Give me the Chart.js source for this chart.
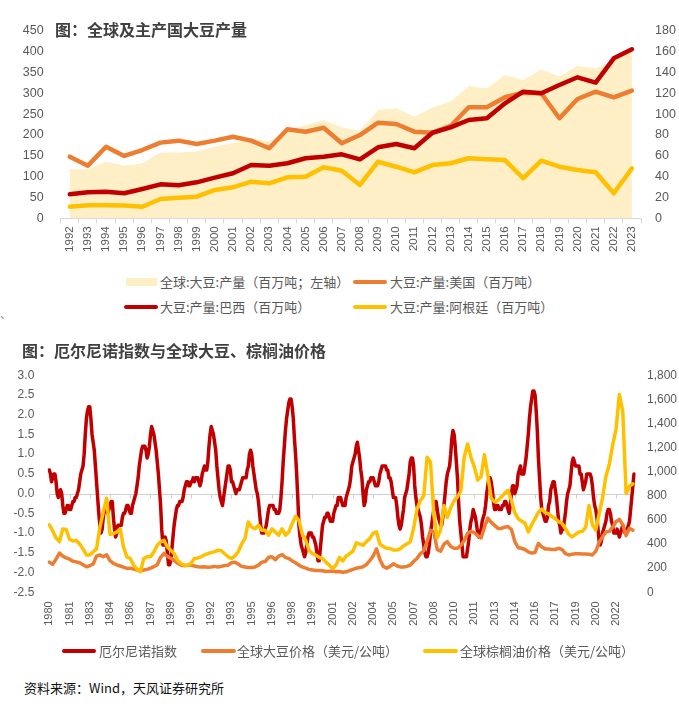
<!DOCTYPE html>
<html><head><meta charset="utf-8">
<script src="https://cdn.jsdelivr.net/npm/chart.js@4.4.1/dist/chart.umd.min.js"></script>
<style>
html,body{margin:0;padding:0;background:#fff;}
body{width:679px;height:706px;position:relative;overflow:hidden;font-family:"Noto Sans CJK SC","Noto Sans",sans-serif;}
canvas{position:absolute;left:0;}
.t{position:absolute;white-space:nowrap;line-height:20px;z-index:2;}
.title{font-size:16px;font-weight:bold;color:#404040;}
.lg{font-size:13px;color:#595959;}
.sw{position:absolute;z-index:2;}
</style></head>
<body>
<canvas id="c1" width="679" height="265" style="top:0px"></canvas>
<canvas id="c2" width="679" height="297" style="top:353px"></canvas>

<div class="t title" style="left:55px;top:19px">图：全球及主产国大豆产量</div>
<div class="sw" style="left:126px;top:278px;width:31px;height:8px;background:#FFEFC6"></div>
<div class="t lg" style="left:160px;top:272px">全球:大豆:产量（百万吨；左轴）</div>
<div class="sw" style="left:353px;top:280px;width:34px;height:4px;background:#ED7D31;border-radius:2px"></div>
<div class="t lg" style="left:390px;top:272px">大豆:产量:美国（百万吨）</div>
<div class="sw" style="left:124px;top:305px;width:34px;height:4px;background:#C00000;border-radius:2px"></div>
<div class="t lg" style="left:160px;top:297px">大豆:产量:巴西（百万吨）</div>
<div class="sw" style="left:353px;top:305px;width:34px;height:4px;background:#FFC000;border-radius:2px"></div>
<div class="t lg" style="left:390px;top:297px">大豆:产量:阿根廷（百万吨）</div>
<div class="t" style="left:0px;top:303px;font-size:11px;color:#777">、</div>

<div class="t title" style="left:22px;top:340px">图：厄尔尼诺指数与全球大豆、棕榈油价格</div>
<div class="sw" style="left:62px;top:649px;width:34px;height:4px;background:#C00000;border-radius:2px"></div>
<div class="t lg" style="left:99px;top:641px">厄尔尼诺指数</div>
<div class="sw" style="left:201px;top:649px;width:35px;height:4px;background:#ED7D31;border-radius:2px"></div>
<div class="t lg" style="left:237px;top:641px">全球大豆价格（美元/公吨）</div>
<div class="sw" style="left:423px;top:649px;width:35px;height:4px;background:#FFC000;border-radius:2px"></div>
<div class="t lg" style="left:460px;top:641px">全球棕榈油价格（美元/公吨）</div>

<div class="t" style="left:24px;top:678px;font-size:13px;color:#111">资料来源：Wind，天风证券研究所</div>

<script>
// ---------- Chart 1 data: soybean production ----------
const prodYears = ['1992','1993','1994','1995','1996','1997','1998','1999','2000','2001','2002','2003','2004','2005','2006','2007','2008','2009','2010','2011','2012','2013','2014','2015','2016','2017','2018','2019','2020','2021','2022','2023'];
const worldProd = [118,118,136,126,132,158,158,160,172,180,192,184,212,224,236,218,210,260,264,244,266,280,317,312,344,332,357,340,366,360,378,400];
const usProd = [59.1,50.5,68.7,59.8,65.5,72.6,74.5,71.3,74.5,78.3,74.5,67.2,85.4,83.1,86.9,72.0,79.9,91.7,90.5,83.1,82.1,88.6,106.5,106.5,116.1,120.5,120.0,96.0,114.5,121.5,116.1,122.5];
const brazilProd = [23.0,24.9,25.5,24.0,28.1,32.6,31.7,34.5,39.0,43.2,51.1,50.5,52.8,57.6,59.1,61.4,56.6,68.1,71.3,67.2,82.1,87.3,94.3,96.0,110.3,121.5,120.0,127.9,135.3,130.1,153.5,162.2];
const argentinaProd = [11.1,12.5,12.5,12.3,11.1,18.5,19.8,20.7,27.2,29.7,35.1,33.6,39.3,39.9,48.9,45.7,32.0,54.3,49.5,44.1,51.1,52.8,57.6,56.6,55.9,38.4,55.3,49.5,46.3,44.1,24.0,48.0];

// ---------- Chart 2 data: monthly ENSO index 1980-01 .. 2023-05 ----------
const ensoStart = {year:1980, month:1};
const ensoIndex = [
0.6,0.5,0.3,0.4,0.5,0.5,0.3,0.0,-0.1,0.0,0.1,0.0,
-0.3,-0.5,-0.5,-0.4,-0.3,-0.3,-0.4,-0.4,-0.3,-0.2,-0.2,-0.1,
-0.1,0.0,0.1,0.3,0.5,0.6,0.7,1.0,1.5,1.9,2.1,2.2,
2.2,1.9,1.5,1.3,1.1,0.7,0.3,-0.1,-0.5,-0.8,-1.0,-0.9,
-0.6,-0.4,-0.3,-0.4,-0.5,-0.4,-0.3,-0.2,-0.2,-0.6,-0.9,-1.1,
-1.0,-0.8,-0.8,-0.8,-0.8,-0.6,-0.5,-0.5,-0.4,-0.3,-0.3,-0.4,
-0.5,-0.5,-0.3,-0.2,-0.1,0.0,0.2,0.4,0.7,0.9,1.1,1.2,
1.2,1.2,1.1,0.9,1.0,1.2,1.5,1.7,1.6,1.5,1.3,1.1,
0.8,0.5,0.1,-0.3,-0.9,-1.3,-1.3,-1.1,-1.2,-1.5,-1.8,-1.8,
-1.7,-1.4,-1.1,-0.8,-0.6,-0.4,-0.3,-0.3,-0.2,-0.2,-0.2,-0.1,
0.1,0.2,0.3,0.3,0.2,0.2,0.3,0.3,0.4,0.3,0.4,0.4,
0.4,0.3,0.2,0.3,0.5,0.6,0.7,0.6,0.6,0.8,1.2,1.5,
1.7,1.6,1.5,1.3,1.1,0.7,0.4,0.1,-0.1,-0.2,-0.3,-0.1,
0.1,0.3,0.5,0.7,0.7,0.6,0.3,0.3,0.2,0.1,0.0,0.1,
0.1,0.1,0.2,0.3,0.4,0.4,0.4,0.4,0.6,0.7,1.0,1.1,
1.0,0.7,0.5,0.3,0.1,0.0,-0.2,-0.5,-0.8,-1.0,-1.0,-1.0,
-0.9,-0.8,-0.6,-0.4,-0.3,-0.3,-0.3,-0.3,-0.4,-0.4,-0.5,-0.5,
-0.5,-0.4,-0.1,0.3,0.8,1.2,1.6,1.9,2.1,2.3,2.4,2.4,
2.2,1.9,1.4,1.0,0.5,-0.1,-0.8,-1.1,-1.3,-1.4,-1.5,-1.6,
-1.5,-1.3,-1.1,-1.0,-1.0,-1.0,-1.1,-1.1,-1.2,-1.3,-1.5,-1.7,
-1.7,-1.4,-1.1,-0.8,-0.7,-0.6,-0.6,-0.5,-0.5,-0.6,-0.7,-0.7,
-0.7,-0.5,-0.4,-0.3,-0.3,-0.1,-0.1,-0.1,-0.2,-0.3,-0.3,-0.3,
-0.1,0.0,0.1,0.2,0.4,0.7,0.8,0.9,1.0,1.2,1.3,1.1,
0.9,0.6,0.4,0.0,-0.3,-0.2,0.1,0.2,0.3,0.3,0.4,0.4,
0.4,0.3,0.2,0.2,0.2,0.3,0.5,0.6,0.7,0.7,0.7,0.7,
0.6,0.6,0.4,0.4,0.3,0.1,-0.1,-0.1,-0.1,-0.3,-0.6,-0.8,
-0.9,-0.8,-0.6,-0.4,-0.1,0.0,0.1,0.3,0.5,0.8,0.9,0.9,
0.7,0.2,-0.1,-0.3,-0.4,-0.5,-0.6,-0.8,-1.1,-1.3,-1.5,-1.6,
-1.6,-1.5,-1.3,-1.0,-0.8,-0.6,-0.4,-0.2,-0.2,-0.4,-0.6,-0.7,
-0.8,-0.8,-0.6,-0.3,0.0,0.3,0.5,0.6,0.7,1.0,1.4,1.6,
1.5,1.2,0.8,0.4,-0.2,-0.7,-1.0,-1.3,-1.6,-1.6,-1.6,-1.6,
-1.4,-1.2,-0.9,-0.7,-0.6,-0.4,-0.5,-0.6,-0.8,-1.0,-1.1,-1.0,
-0.9,-0.7,-0.6,-0.5,-0.3,0.0,0.2,0.4,0.4,0.3,0.1,-0.2,
-0.4,-0.4,-0.3,-0.3,-0.4,-0.4,-0.4,-0.3,-0.3,-0.2,-0.2,-0.3,
-0.4,-0.5,-0.3,0.0,0.2,0.2,0.0,0.1,0.2,0.5,0.6,0.7,
0.5,0.5,0.5,0.7,0.9,1.2,1.5,1.9,2.2,2.4,2.6,2.6,
2.5,2.1,1.6,0.9,0.4,-0.1,-0.4,-0.5,-0.6,-0.7,-0.7,-0.6,
-0.3,-0.2,0.1,0.2,0.3,0.3,0.1,-0.1,-0.4,-0.7,-0.8,-1.0,
-0.9,-0.9,-0.7,-0.5,-0.2,0.0,0.1,0.2,0.5,0.8,0.9,0.8,
0.7,0.7,0.7,0.7,0.5,0.5,0.3,0.1,0.2,0.3,0.5,0.5,
0.5,0.5,0.4,0.2,-0.1,-0.3,-0.4,-0.6,-0.9,-1.2,-1.3,-1.2,
-1.0,-0.9,-0.8,-0.7,-0.5,-0.4,-0.4,-0.5,-0.7,-0.8,-1.0,-1.0,
-1.0,-0.9,-1.0,-1.1,-1.0,-0.9,-0.8,-0.9,-1.0,-1.0,-0.9,-0.8,
-0.7,-0.4,-0.1,0.2,0.5
];
// quarterly prices (Jan, Apr, Jul, Oct), USD/t, 1980Q1 .. 2023Q2
const soyPriceQ = [
250,232,275,325, 300,285,275,258, 252,245,228,212, 220,235,300,310, 295,310,262,240,
228,218,208,198, 200,192,185,180, 185,190,200,212, 228,290,322,298, 282,265,242,226,
220,225,225,218, 212,210,212,208, 210,215,210,215, 222,225,245,250, 235,215,210,205,
205,210,225,250, 255,290,295,270, 300,312,290,280, 260,245,225,210, 200,190,185,180,
180,178,172,175, 175,170,172,166, 170,180,190,200, 205,212,230,262, 300,360,272,215,
200,215,236,220, 210,210,215,225, 255,280,320,345, 420,515,500,355, 340,400,420,380,
365,365,390,430, 490,505,495,470, 450,540,615,580, 555,530,530,540, 545,520,420,370,
365,355,335,325, 330,405,375,360, 360,355,355,365, 355,320,310,315, 320,320,318,318,
315,310,340,415, 460,500,505,540, 585,605,560,470, 530,515
];
const palmPriceQ = [
560,510,450,420, 525,520,440,425, 430,400,360,310, 310,335,360,540, 665,780,480,486,
500,527,376,294, 280,225,192,170, 280,294,294,335, 390,418,431,376, 349,321,266,239,
225,225,239,280, 285,294,310,321, 330,335,349,345, 320,294,280,300, 335,400,445,583,
540,527,555,514, 514,473,527,500, 473,527,473,500, 569,630,596,480, 430,349,320,308,
290,280,250,225, 198,225,290,260, 300,320,340,410, 400,390,420,445, 490,500,400,380,
365,363,350,350, 360,385,400,418, 530,690,760,800, 1120,1080,640,450, 520,720,620,700,
760,790,840,1120, 1230,1120,1040,930, 960,1140,970,780, 750,760,790,820, 845,760,660,610,
590,575,500,560, 610,665,690,660, 650,630,610,585, 570,530,480,460, 480,500,505,540,
720,560,515,650, 780,960,1060,1220, 1350,1640,1500,820, 880,900
];
const priceTickYears = ['1980','1981','1983','1984','1986','1987','1989','1990','1992','1993','1995','1996','1998','1999','2001','2002','2004','2005','2007','2008','2010','2011','2013','2014','2016','2017','2019','2020','2022'];
const ensoTicks = [-2.5,-2.0,-1.5,-1.0,-0.5,0.0,0.5,1.0,1.5,2.0,2.5,3.0];

// ---------- common ----------
Chart.defaults.font.family = '"Liberation Sans", Arial, sans-serif';
Chart.defaults.color = '#595959';
const C_RED = '#C00000', C_ORG = '#ED7D31', C_GOLD = '#FFC000', C_AREA = '#FFEFC6';

// ---------- Chart 1 ----------
new Chart(document.getElementById('c1'), {
  type: 'line',
  data: {
    labels: prodYears,
    datasets: [
      {label:'全球:大豆:产量（百万吨；左轴）', data: worldProd, yAxisID:'yL', fill:'origin', backgroundColor:C_AREA, borderWidth:0, borderColor:'rgba(0,0,0,0)', pointRadius:0, order:10},
      {label:'大豆:产量:美国（百万吨）', data: usProd, yAxisID:'yR', borderColor:C_ORG, borderWidth:4.5, pointRadius:0, fill:false, order:3},
      {label:'大豆:产量:巴西（百万吨）', data: brazilProd, yAxisID:'yR', borderColor:C_RED, borderWidth:4.5, pointRadius:0, fill:false, order:2},
      {label:'大豆:产量:阿根廷（百万吨）', data: argentinaProd, yAxisID:'yR', borderColor:C_GOLD, borderWidth:4.5, pointRadius:0, fill:false, order:1}
    ]
  },
  options: {
    responsive:false, animation:false, devicePixelRatio:1,
    layout:{padding:{top:30.7,left:0,right:0,bottom:0}},
    plugins:{legend:{display:false}, tooltip:{enabled:false}},
    elements:{line:{tension:0, borderJoinStyle:'round', borderCapStyle:'round'}},
    scales:{
      x:{type:'category', offset:true,
        grid:{display:true, drawOnChartArea:false, drawTicks:true, tickLength:5, color:'#d9d9d9', offset:true},
        border:{display:true, color:'#d9d9d9'},
        ticks:{autoSkip:false, minRotation:90, maxRotation:90, padding:3, font:{size:11.5}, color:'#595959'},
        afterFit:(s)=>{s.height = 265-218.3;}
      },
      yL:{position:'left', min:0, max:450, grid:{display:false, drawTicks:false}, border:{display:false},
        ticks:{stepSize:50, padding:17, font:{size:12.5}, color:'#595959'},
        afterFit:(s)=>{s.width = 60.7;}
      },
      yR:{position:'right', min:0, max:180, grid:{display:false, drawTicks:false}, border:{display:false},
        ticks:{stepSize:20, padding:14, font:{size:12.5}, color:'#595959'},
        afterFit:(s)=>{s.width = 679-641;}
      }
    }
  }
});

// ---------- Chart 2 ----------
const monthLabels = ensoIndex.map((_, i) => {
  const y = ensoStart.year + Math.floor((ensoStart.month - 1 + i) / 12);
  const m = (ensoStart.month - 1 + i) % 12 + 1;
  return y + '-' + String(m).padStart(2, '0');
});
const soyMonthly = monthLabels.map((_, i) => (i % 3 === 0 && soyPriceQ[i/3] !== undefined) ? soyPriceQ[i/3] : null);
const palmMonthly = monthLabels.map((_, i) => (i % 3 === 0 && palmPriceQ[i/3] !== undefined) ? palmPriceQ[i/3] : null);

const zeroLine = {
  id:'zeroLine',
  beforeDatasetsDraw(chart){
    const {ctx, chartArea, scales} = chart;
    const y0 = Math.round(scales.yL.getPixelForValue(0)) + 0.5;
    ctx.save();
    ctx.strokeStyle = '#d0d0d0'; ctx.lineWidth = 1;
    ctx.beginPath(); ctx.moveTo(chartArea.left, y0); ctx.lineTo(chartArea.right, y0); ctx.stroke();
    for (let i = 0; i < monthLabels.length; i += 18) {
      const x = Math.round(scales.x.getPixelForValue(i)) + 0.5;
      ctx.beginPath(); ctx.moveTo(x, y0); ctx.lineTo(x, y0 + 4); ctx.stroke();
    }
    ctx.restore();
  }
};

new Chart(document.getElementById('c2'), {
  type:'line',
  data:{
    labels: monthLabels,
    datasets:[
      {label:'厄尔尼诺指数', data: ensoIndex, yAxisID:'yL', borderColor:C_RED, borderWidth:3.5, pointRadius:0, fill:false, order:3},
      {label:'全球大豆价格（美元/公吨）', data: soyMonthly, yAxisID:'yR', borderColor:C_ORG, borderWidth:3.5, pointRadius:0, fill:false, spanGaps:true, order:2},
      {label:'全球棕榈油价格（美元/公吨）', data: palmMonthly, yAxisID:'yR', borderColor:C_GOLD, borderWidth:3.5, pointRadius:0, fill:false, spanGaps:true, order:1}
    ]
  },
  options:{
    responsive:false, animation:false, devicePixelRatio:1,
    layout:{padding:{top:14,left:0,right:0,bottom:0}},
    plugins:{legend:{display:false}, tooltip:{enabled:false}},
    elements:{line:{tension:0, borderJoinStyle:'round', borderCapStyle:'round'}},
    scales:{
      x:{type:'category', offset:false,
        grid:{display:false, drawTicks:false},
        border:{display:false},
        ticks:{autoSkip:false, minRotation:90, maxRotation:90, padding:9, font:{size:11}, color:'#595959',
          callback:(v, i)=> (i % 18 === 0) ? priceTickYears[i/18] : null},
        afterFit:(s)=>{s.height = 297-(592.3-353);}
      },
      yL:{position:'left', min:-2.5, max:3.0, grid:{display:false, drawTicks:false}, border:{display:false},
        afterBuildTicks:(s)=>{s.ticks = ensoTicks.map(v=>({value:v}));},
        ticks:{padding:15, font:{size:12}, color:'#595959', callback:(v)=>Number(v).toFixed(1)},
        afterFit:(s)=>{s.width = 49.3;}
      },
      yR:{position:'right', min:0, max:1800, grid:{display:false, drawTicks:false}, border:{display:false},
        ticks:{stepSize:200, padding:13, font:{size:12}, color:'#595959', callback:(v)=>Number(v).toLocaleString('en-US')},
        afterFit:(s)=>{s.width = 679-634;}
      }
    }
  },
  plugins:[zeroLine]
});
</script>
</body></html>
